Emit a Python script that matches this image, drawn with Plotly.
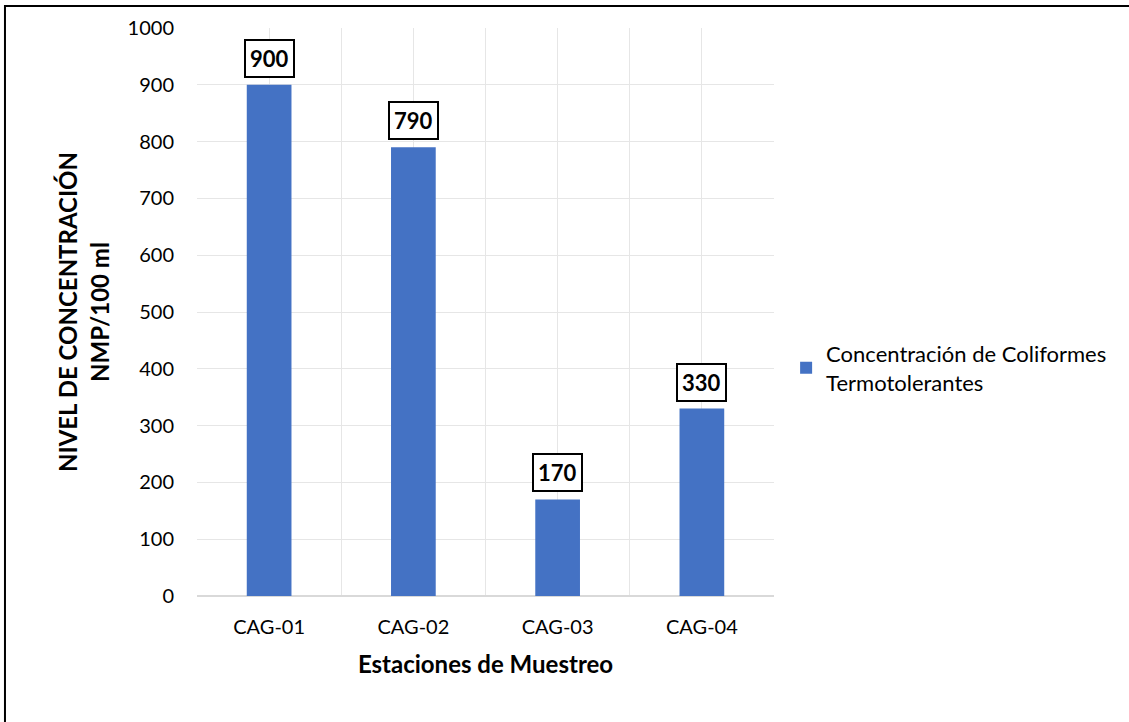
import plotly.graph_objects as go

categories = ["CAG-01", "CAG-02", "CAG-03", "CAG-04"]
values = [900, 790, 170, 330]
series_name = "Concentración de Coliformes<br>Termotolerantes"
y_ticks = list(range(0, 1001, 100))

FONT = "Lato, Carlito, Calibri, sans-serif"
BLUE = "#4472C4"
GRID = "#e6e6e6"

positions = list(range(len(categories)))

fig = go.Figure()
fig.add_trace(go.Bar(x=positions, y=values, name=series_name,
                     marker=dict(color=BLUE, line=dict(width=0)),
                     width=0.31, showlegend=True))

annotations = []
for p, v in zip(positions, values):
    annotations.append(dict(x=p, y=v, xref="x", yref="y", text=f"<b>{v}</b>",
                            showarrow=False, yanchor="bottom", yshift=7,
                            font=dict(family=FONT, size=22, color="black"),
                            bgcolor="white", bordercolor="black", borderwidth=2,
                            borderpad=4))

fig.update_layout(
    width=1129, height=722,
    margin=dict(l=197, r=355, t=28, b=126),
    paper_bgcolor="white", plot_bgcolor="white",
    font=dict(family=FONT, size=20, color="black"),
    xaxis=dict(type="linear", range=[-0.5, len(categories) - 0.5],
               tickvals=positions, ticktext=categories,
               showgrid=True, gridcolor=GRID, gridwidth=1, showline=False, zeroline=False,
               minor=dict(tick0=0.5, dtick=1, showgrid=True, gridcolor=GRID, gridwidth=1, ticks=""),
               ticks="", tickfont=dict(size=20), ticklabelstandoff=17,
               title=dict(text="<b>Estaciones de Muestreo</b>", font=dict(size=24), standoff=19)),
    yaxis=dict(range=[0, 1000], tickvals=y_ticks, showgrid=True, gridcolor=GRID,
               gridwidth=1, zeroline=True, zerolinecolor="#d9d9d9", zerolinewidth=1.5,
               ticks="", tickfont=dict(size=20), ticklabelstandoff=22,
               title=dict(text="<b>NIVEL DE CONCENTRACIÓN<br>NMP/100 ml</b>",
                          font=dict(size=24), standoff=11)),
    legend=dict(x=1.021, y=0.401, xanchor="left", yanchor="middle",
                font=dict(size=22), bgcolor="rgba(0,0,0,0)"),
    annotations=annotations,
    shapes=[dict(type="rect", xref="paper", yref="paper",
                 x0=-0.3328, x1=1.7, y0=-0.35, y1=1.0387,
                 line=dict(color="black", width=2), layer="above")],
)

fig.write_html("out.html", config={"displayModeBar": False},
               post_script="document.body.style.margin='0';")
